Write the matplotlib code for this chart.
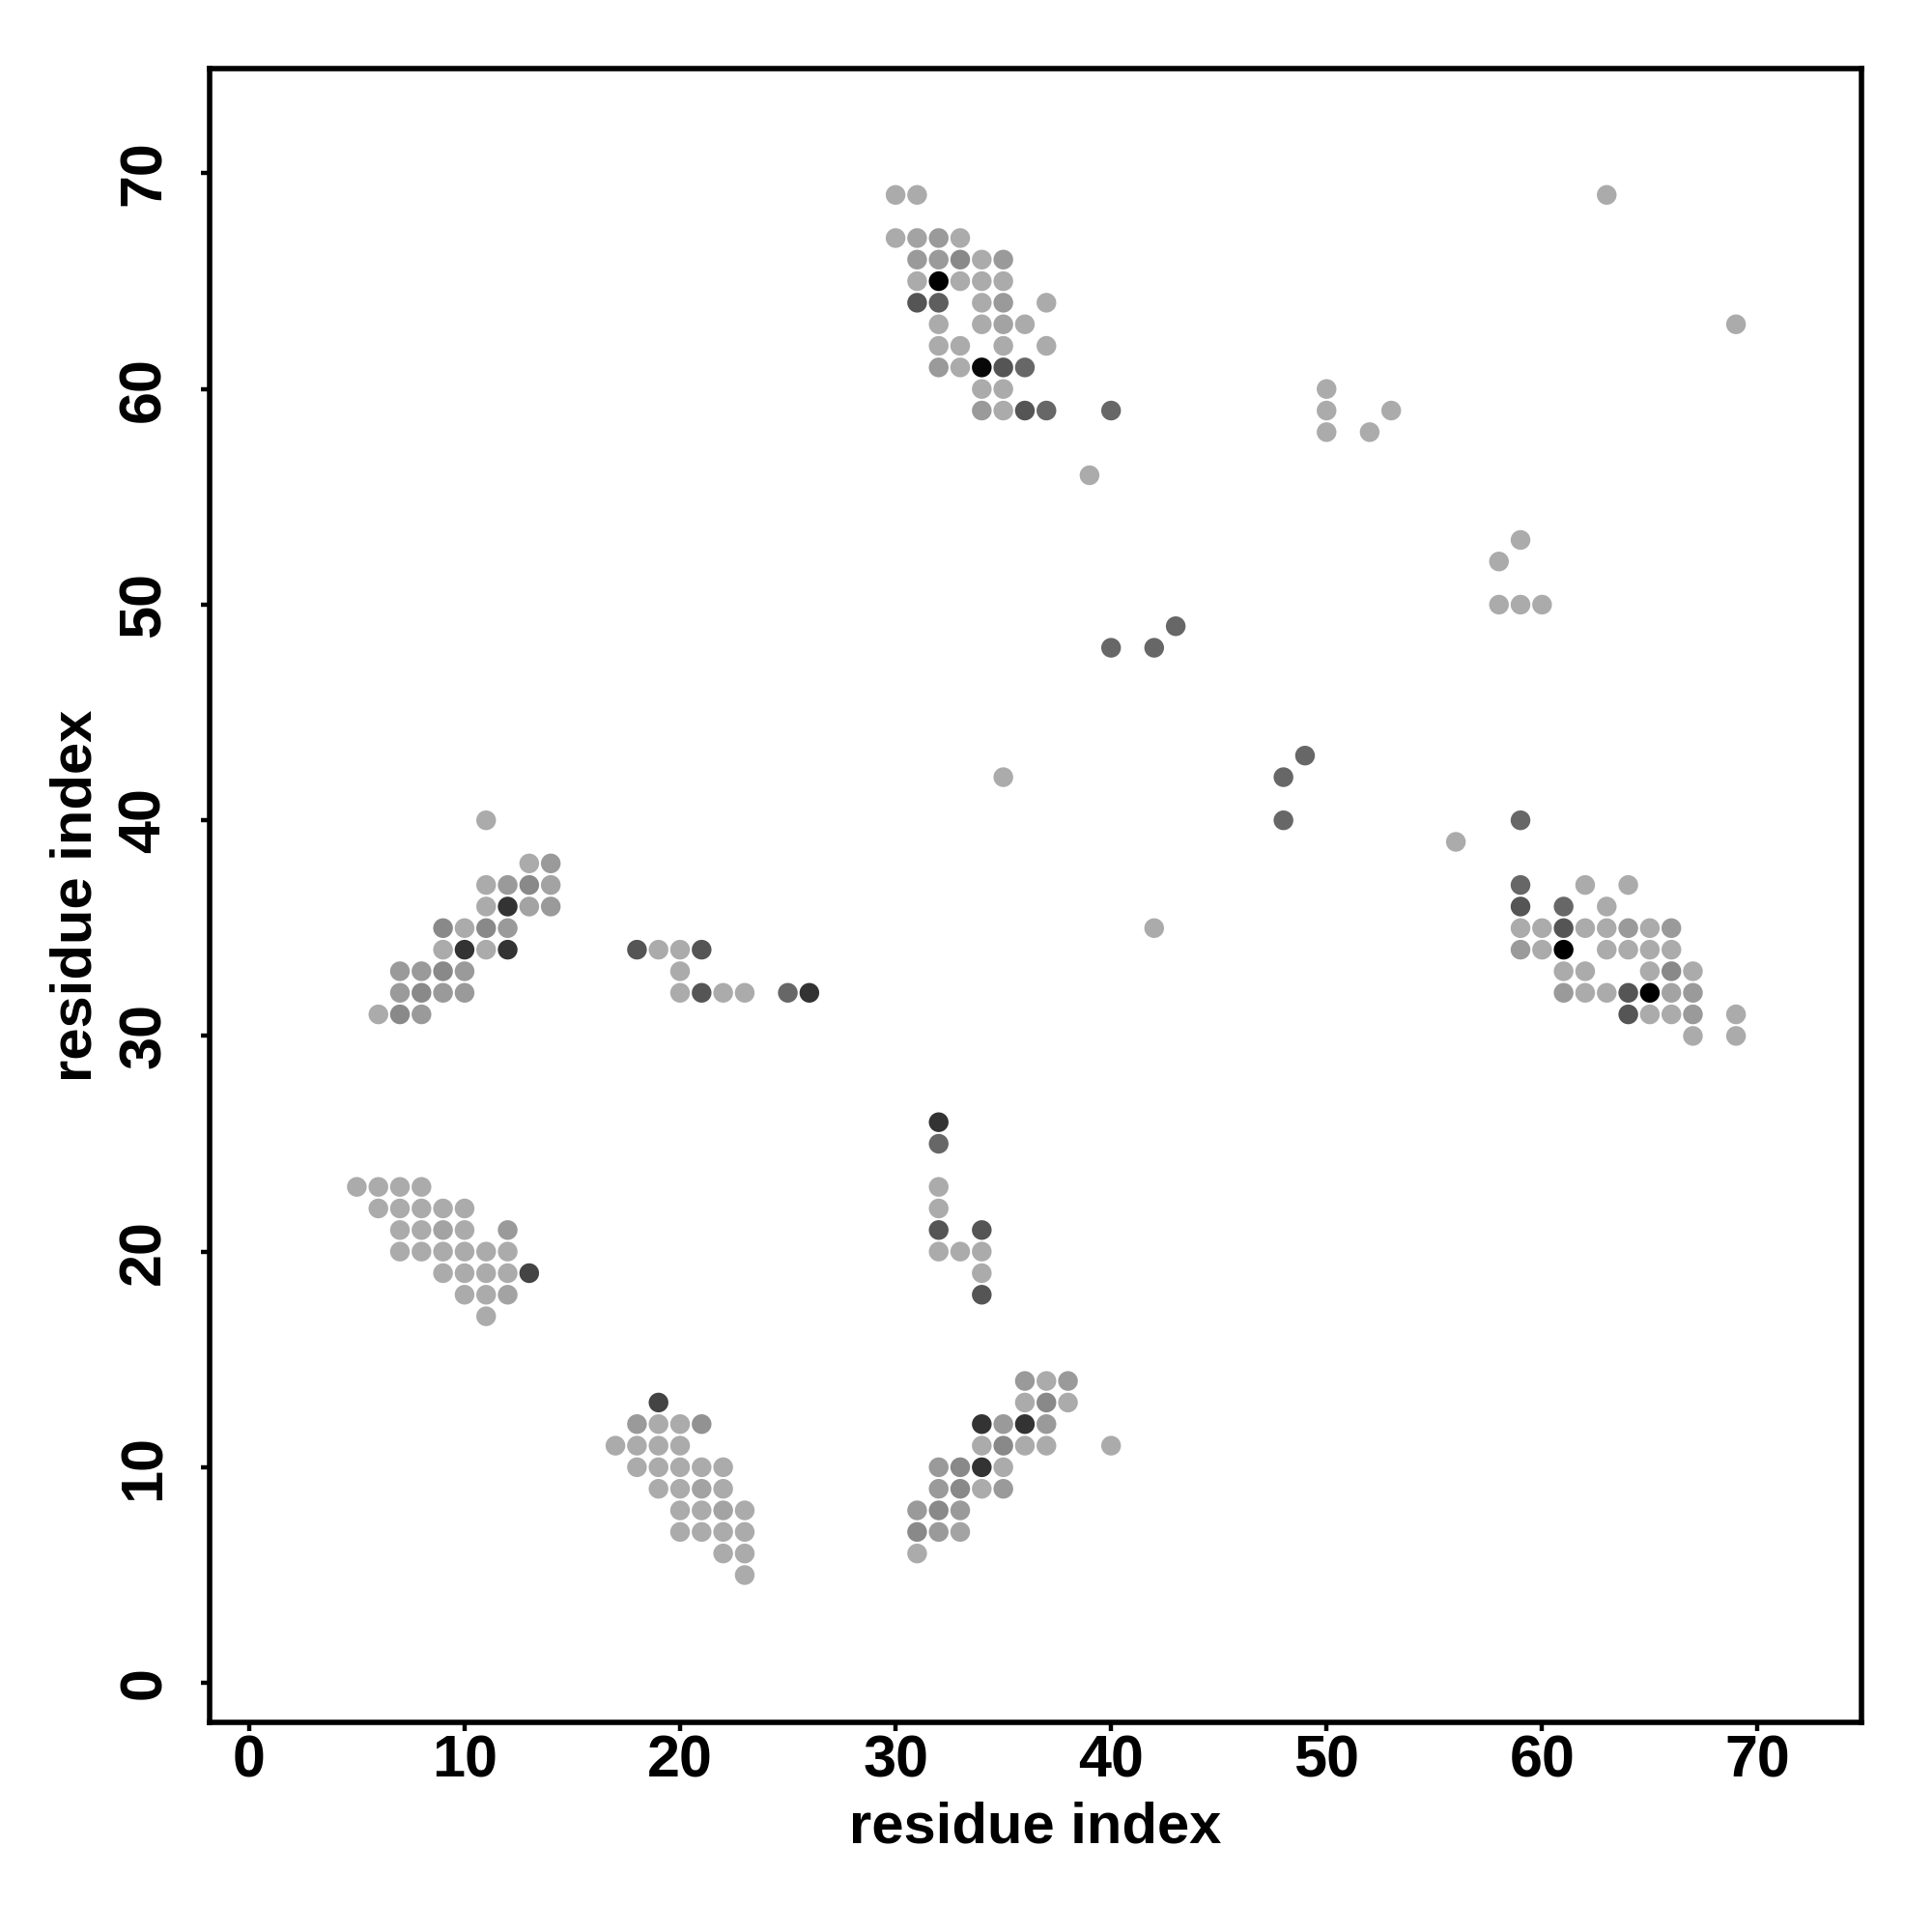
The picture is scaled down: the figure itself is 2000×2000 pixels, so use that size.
import matplotlib
matplotlib.use("Agg")
import matplotlib.pyplot as plt
import numpy as np
from matplotlib.colors import LinearSegmentedColormap

# contact map data: residue i, residue j, contact strength (0 = weak/light, 1 = strong/black)
res_i = [
    # top cluster
    30, 31,
    30, 31, 32, 33,
    31, 32, 33, 34, 35,
    31, 32, 33, 34, 35,
    31, 32, 34, 35, 37,
    32, 34, 35, 36,
    32, 33, 35, 37,
    32, 33, 34, 35, 36,
    34, 35,
    34, 35, 36, 37, 40,
    # scattered
    39, 50, 50, 50, 52, 53, 63, 69, 58, 59, 58, 59, 60,
    40, 42, 43, 48, 49, 48, 35, 56, 42, 40,
    # right cluster
    59,
    59, 62, 64,
    59, 61, 63,
    59, 60, 61, 62, 63, 64, 65, 66,
    59, 60, 61, 63, 64, 65, 66,
    61, 62, 65, 66, 67,
    61, 62, 63, 64, 65, 66, 67,
    64, 65, 66, 67, 69,
    67, 69,
    # left-middle cluster
    11,
    13, 14,
    11, 12, 13, 14,
    11, 12, 13, 14,
    9, 10, 11, 12,
    9, 10, 11, 12,
    7, 8, 9, 10,
    7, 8, 9, 10,
    6, 7, 8,
    # middle strand
    18, 19, 20, 21,
    20,
    20, 21, 22, 23, 25, 26,
    # bottom-left cluster
    5, 6, 7, 8,
    6, 7, 8, 9, 10,
    7, 8, 9, 10, 12,
    7, 8, 9, 10, 11, 12,
    9, 10, 11, 12, 13,
    10, 11, 12,
    11,
    # bottom cluster
    19,
    18, 19, 20, 21,
    17, 18, 19, 20,
    18, 19, 20, 21, 22,
    19, 20, 21, 22,
    20, 21, 22, 23,
    20, 21, 22, 23,
    22, 23,
    23,
    # bottom-middle cluster
    36, 37, 38,
    36, 37, 38,
    34, 35, 36, 37,
    34, 35, 36, 37,
    32, 33, 34, 35,
    32, 33, 34, 35,
    31, 32, 33,
    31, 32, 33,
    31,
    # vertical strand
    32, 32, 32, 32, 32, 34, 32, 33, 34, 34, 34,
]

res_j = [
    69, 69,
    67, 67, 67, 67,
    66, 66, 66, 66, 66,
    65, 65, 65, 65, 65,
    64, 64, 64, 64, 64,
    63, 63, 63, 63,
    62, 62, 62, 62,
    61, 61, 61, 61, 61,
    60, 60,
    59, 59, 59, 59, 59,
    56, 60, 59, 58, 58, 59, 69, 63, 52, 53, 50, 50, 50,
    48, 48, 49, 42, 43, 40, 42, 39, 35, 11,
    40,
    37, 37, 37,
    36, 36, 36,
    35, 35, 35, 35, 35, 35, 35, 35,
    34, 34, 34, 34, 34, 34, 34,
    33, 33, 33, 33, 33,
    32, 32, 32, 32, 32, 32, 32,
    31, 31, 31, 31, 31,
    30, 30,
    40,
    38, 38,
    37, 37, 37, 37,
    36, 36, 36, 36,
    35, 35, 35, 35,
    34, 34, 34, 34,
    33, 33, 33, 33,
    32, 32, 32, 32,
    31, 31, 31,
    34, 34, 34, 34,
    33,
    32, 32, 32, 32, 32, 32,
    23, 23, 23, 23,
    22, 22, 22, 22, 22,
    21, 21, 21, 21, 21,
    20, 20, 20, 20, 20, 20,
    19, 19, 19, 19, 19,
    18, 18, 18,
    17,
    13,
    12, 12, 12, 12,
    11, 11, 11, 11,
    10, 10, 10, 10, 10,
    9, 9, 9, 9,
    8, 8, 8, 8,
    7, 7, 7, 7,
    6, 6,
    5,
    14, 14, 14,
    13, 13, 13,
    12, 12, 12, 12,
    11, 11, 11, 11,
    10, 10, 10, 10,
    9, 9, 9, 9,
    8, 8, 8,
    7, 7, 7,
    6,
    26, 25, 23, 22, 21, 21, 20, 20, 20, 19, 18,
]

strength = [
    0, 0,
    0, 0.05, 0.1, 0,
    0.1, 0.1, 0.2, 0, 0.1,
    0, 1.0, 0, 0, 0,
    0.5, 0.45, 0, 0.1, 0,
    0, 0, 0.05, 0,
    0, 0, 0, 0,
    0.1, 0, 0.95, 0.5, 0.4,
    0, 0,
    0.1, 0, 0.5, 0.4, 0.4,
    0, 0, 0, 0, 0, 0, 0, 0, 0, 0, 0, 0, 0,
    0.4, 0.4, 0.4, 0.4, 0.4, 0.4, 0, 0, 0, 0,
    0.4,
    0.4, 0, 0,
    0.5, 0.4, 0,
    0, 0, 0.5, 0, 0, 0.1, 0, 0.1,
    0.1, 0, 1.0, 0, 0, 0, 0,
    0, 0, 0, 0.2, 0,
    0.1, 0, 0, 0.5, 1.0, 0.05, 0.1,
    0.5, 0, 0, 0.1, 0,
    0, 0,
    0,
    0, 0.1,
    0, 0.1, 0.2, 0.05,
    0, 0.7, 0.05, 0.1,
    0.2, 0, 0.2, 0.1,
    0, 0.7, 0, 0.7,
    0.1, 0.1, 0.2, 0.1,
    0.1, 0.2, 0.1, 0.1,
    0, 0.2, 0.1,
    0.5, 0, 0, 0.5,
    0,
    0, 0.5, 0, 0, 0.4, 0.7,
    0, 0, 0, 0,
    0, 0, 0, 0, 0,
    0, 0, 0.05, 0, 0.1,
    0, 0, 0, 0, 0, 0,
    0, 0, 0, 0, 0.6,
    0, 0, 0.05,
    0,
    0.6,
    0.1, 0, 0, 0.15,
    0, 0, 0, 0,
    0, 0, 0, 0, 0,
    0, 0, 0.05, 0,
    0, 0, 0.05, 0,
    0, 0, 0, 0,
    0, 0,
    0,
    0.1, 0, 0.1,
    0, 0.2, 0,
    0.7, 0.1, 0.7, 0.1,
    0, 0.2, 0, 0,
    0.1, 0.2, 0.7, 0,
    0.1, 0.2, 0, 0.1,
    0.1, 0.2, 0.1,
    0.2, 0.1, 0.05,
    0,
    0.7, 0.4, 0, 0, 0.5, 0.5, 0, 0, 0, 0, 0.5,
]

xticks = [0, 10, 20, 30, 40, 50, 60, 70]
yticks = [0, 10, 20, 30, 40, 50, 60, 70]
axis_label = "residue index"

plt.rcParams['font.family'] = ['Liberation Sans', 'DejaVu Sans']

cmap = LinearSegmentedColormap.from_list("greys_contact", ["#ababab", "#000000"])

fig = plt.figure(figsize=(10, 10), dpi=200)
ax = fig.add_axes([0.1084, 0.1084, 0.8553, 0.8559])

ax.scatter(res_i, res_j, c=strength, cmap=cmap, vmin=0, vmax=1, s=54,
           linewidths=0, zorder=3)

ax.set_xlim(-1.84, 74.84)
ax.set_ylim(-1.84, 74.84)
ax.set_xticks(xticks)
ax.set_yticks(yticks)
ax.set_xticklabels([str(t) for t in xticks], fontsize=22, fontweight='bold',
                   family=['Liberation Sans Narrow', 'Liberation Sans'])
ax.set_yticklabels([str(t) for t in yticks], fontsize=22, fontweight='bold',
                   rotation=90, va='center')
ax.tick_params(axis='both', direction='out', length=3.2, width=1.6)
ax.tick_params(axis='x', pad=1.2)
ax.tick_params(axis='y', pad=10.5)
for sp in ax.spines.values():
    sp.set_linewidth(2.0)

ax.set_xlabel(axis_label, fontsize=21.5, fontweight='bold', va='center')
ax.set_ylabel(axis_label, fontsize=21.5, fontweight='bold', va='center')
ax.xaxis.set_label_coords(0.5, -0.0636)
ax.yaxis.set_label_coords(-0.0806, 0.5)

fig.savefig("out.png", dpi=200, facecolor="white")
